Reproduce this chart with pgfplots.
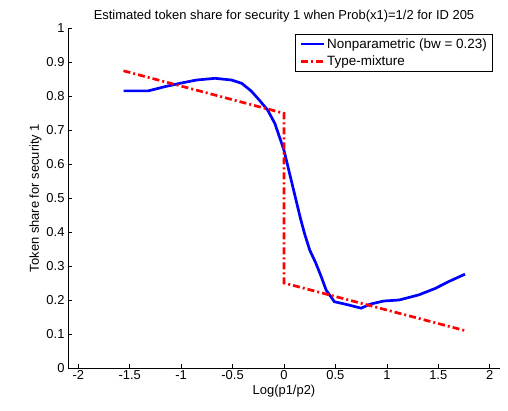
\documentclass[border=0pt]{standalone}
\usepackage{fontspec}
\setmainfont{Liberation Sans}
\usepackage{pgfplots}
\pgfplotsset{compat=1.18}
\begin{document}
\begin{tikzpicture}
\path[use as bounding box] (-68bp,-43bp) rectangle (440bp,368bp);
\begin{axis}[
  scale only axis, width=432bp, height=340bp,
  xmin=-2.1, xmax=2.1, ymin=0, ymax=1,
  axis x line*=bottom, axis y line*=left,
  axis line style={-, line width=0.8pt},
  xtick={-2,-1.5,...,2}, ytick={0,0.1,...,1},
  tick align=inside, major tick length=4bp,
  tick style={black, line width=0.6pt},
  /pgf/number format/assume math mode=true,
  /pgf/number format/fixed, /pgf/number format/precision=1,
  ticklabel style={font=\fontsize{13}{15}\selectfont},
  xticklabel style={yshift=1bp},
  title={Estimated token share for security 1 when Prob(x1)=1/2 for ID 205},
  title style={font=\fontsize{13}{15}\selectfont, yshift=-4bp},
  xlabel={Log(p1/p2)}, ylabel={Token share for security 1},
  label style={font=\fontsize{13}{15}\selectfont},
  xlabel style={yshift=1bp},
  ylabel style={yshift=-2bp},
  legend style={at={(0.984,0.982)}, anchor=north east, draw=black, line width=0.6pt, font=\fontsize{13.5}{15}\selectfont, inner xsep=4bp, inner ysep=2bp, row sep=2bp},
  legend image code/.code={\draw[#1] (0bp,0bp) -- (23bp,0bp);},
  legend cell align=left,
]
\addplot[blue, line width=2.7bp] coordinates {
(-1.56,0.815) (-1.32,0.815) (-1.15,0.828) (-1.0,0.838) (-0.85,0.847) (-0.67,0.852) (-0.51,0.847) (-0.41,0.837) (-0.32,0.815) (-0.24,0.788) (-0.16,0.759) (-0.09,0.72) (-0.04,0.676) (0,0.64) (0.04,0.59) (0.08,0.54) (0.12,0.49) (0.16,0.44) (0.2,0.395) (0.25,0.347) (0.31,0.308) (0.36,0.27) (0.41,0.229) (0.49,0.195) (0.62,0.186) (0.75,0.176) (0.84,0.188) (0.97,0.197) (1.12,0.2) (1.31,0.215) (1.47,0.234) (1.60,0.254) (1.76,0.276)
};
\addlegendentry{Nonparametric (bw = 0.23)}
\addplot[red, line width=2.7bp, dash pattern=on 7bp off 3bp on 2bp off 3bp] coordinates {
(-1.56,0.874) (0,0.749) (0,0.25) (1.76,0.11)
};
\addlegendentry{Type-mixture}
\end{axis}
\end{tikzpicture}
\end{document}
